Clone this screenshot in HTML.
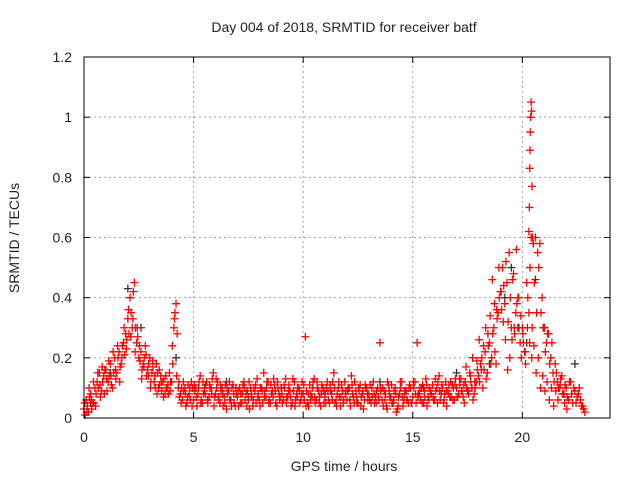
<!DOCTYPE html>
<html><head><meta charset="utf-8"><style>
body{margin:0;background:#fff;font-family:"Liberation Sans",sans-serif;}
svg text{font-family:"Liberation Sans",sans-serif;font-size:14px;fill:#222;}
</style></head><body>
<svg id="chart" width="640" height="480" xmlns="http://www.w3.org/2000/svg">
<rect x="0" y="0" width="640" height="480" fill="#fff"/>
<text x="344" y="32" text-anchor="middle">Day 004 of 2018, SRMTID for receiver batf</text>
<text x="344" y="471" text-anchor="middle">GPS time / hours</text>
<text x="19" y="238" text-anchor="middle" transform="rotate(-90 19 238)">SRMTID / TECUs</text>
<g id="grid"></g>
<g id="ticks"></g>
<g id="marks"></g>
<rect x="84" y="57" width="526" height="361" fill="none" stroke="#000" stroke-width="1"/>
</svg>
<script>
const xTicks=[0,5,10,15,20];
const yTicks=[0,0.2,0.4,0.6,0.8,1,1.2];
const yTickLabels=["0","0.2","0.4","0.6","0.8","1","1.2"];
const seriesA=[.03,.06,.02,.08,.05,.1,.12,.15,.09,.14,.16,.12,.18,.1,.2,.15,.22,.18,.25,.28,.33,.4,.3,.45,.25,.2,.22,.18,.24,.16,.2,.15,.12,.18,.1,.14,.12,.08,.1,.15,.12,.3,.38,.1,.08,.06,.1,.05,.08,.12,.06,.1,.08,.14,.05,.09,.12,.07,.1,.15,.08,.12,.05,.1,.07,.03,.09,.06,.11,.04,.07,.1,.05,.12,.08,.06,.1,.04,.09,.13,.06,.1,.15,.07,.12,.05,.09,.11,.04,.08,.1,.06,.13,.07,.09,.05,.12,.08,.1,.06,.08,.27,.05,.11,.07,.13,.06,.09,.04,.1,.07,.12,.05,.08,.15,.06,.1,.04,.09,.12,.06,.1,.14,.07,.09,.05,.11,.08,.06,.1,.08,.05,.12,.07,.1,.25,.06,.09,.04,.11,.07,.05,.1,.03,.08,.12,.06,.09,.05,.1,.07,.12,.25,.08,.1,.05,.13,.07,.09,.11,.06,.1,.14,.08,.05,.12,.09,.07,.11,.06,.1,.08,.13,.07,.12,.09,.15,.1,.08,.12,.14,.18,.1,.22,.15,.25,.2,.3,.18,.35,.42,.5,.38,.45,.55,.3,.48,.35,.4,.25,.3,.22,.45,.35,.6,.58,.6,.55,.58,.4,.3,.25,.28,.2,.15,.18,.12,.1,.14,.08,.1,.06,.12,.05,.09,.07,.1,.04,.03];
const seriesB=[.01,.04,.07,.03,.05,.08,.1,.07,.12,.16,.09,.14,.11,.15,.13,.2,.17,.24,.21,.26,.28,.35,.42,.3,.27,.19,.16,.2,.14,.18,.12,.17,.1,.15,.11,.09,.13,.1,.08,.12,.18,.35,.28,.07,.1,.09,.04,.11,.06,.1,.09,.04,.12,.06,.08,.11,.05,.1,.13,.07,.1,.06,.09,.04,.11,.08,.06,.1,.05,.08,.04,.08,.11,.06,.09,.03,.07,.1,.05,.08,.1,.05,.09,.12,.06,.08,.13,.05,.1,.07,.05,.1,.07,.11,.04,.09,.06,.1,.05,.12,.06,.09,.04,.08,.12,.05,.1,.07,.11,.05,.1,.06,.09,.12,.05,.08,.07,.11,.06,.09,.1,.04,.08,.12,.05,.09,.07,.03,.1,.06,.11,.07,.05,.09,.06,.1,.04,.08,.12,.07,.05,.09,.02,.07,.1,.04,.08,.06,.11,.05,.1,.05,.08,.06,.11,.07,.04,.1,.08,.06,.09,.12,.06,.1,.08,.04,.11,.07,.1,.13,.07,.11,.09,.05,.1,.08,.12,.06,.1,.16,.12,.2,.16,.13,.24,.18,.28,.22,.33,.4,.36,.44,.52,.32,.4,.46,.28,.38,.3,.2,.25,.18,.4,.5,.3,.45,.35,.5,.35,.3,.22,.28,.18,.25,.12,.15,.1,.13,.08,.11,.07,.12,.08,.1,.05,.08,.06,.04,.02];
const seriesC=[.05,.02,.1,.06,.12,.04,.15,.11,.17,.08,.13,.19,.14,.22,.16,.24,.12,.2,.3,.23,.36,.27,.33,.22,.3,.24,.13,.17,.21,.14,.1,.19,.14,.08,.16,.12,.07,.14,.11,.09,.24,.33,.14,.12,.05,.12,.08,.07,.1,.04,.11,.07,.1,.05,.12,.08,.06,.11,.08,.04,.13,.07,.11,.08,.05,.1,.12,.04,.08,.1,.09,.05,.08,.1,.04,.12,.08,.06,.11,.07,.04,.09,.07,.1,.05,.11,.07,.09,.12,.06,.08,.11,.05,.09,.07,.13,.04,.07,.09,.08,.11,.04,.08,.06,.1,.07,.12,.05,.08,.09,.05,.09,.11,.06,.1,.04,.12,.07,.05,.08,.09,.06,.11,.05,.07,.1,.04,.09,.11,.08,.06,.1,.08,.05,.07,.09,.1,.06,.03,.09,.11,.06,.08,.04,.12,.07,.09,.06,.1,.05,.12,.08,.07,.1,.05,.09,.11,.06,.08,.07,.13,.05,.09,.11,.06,.09,.08,.12,.06,.11,.07,.13,.09,.11,.17,.09,.14,.2,.12,.19,.26,.16,.24,.3,.28,.34,.46,.38,.36,.5,.42,.32,.26,.16,.2,.26,.3,.56,.4,.34,.28,.22,.3,.25,.2,.24,.15,.2,.1,.14,.09,.12,.06,.1,.04,.09,.06,.11,.08,.05,.03];
const spikeX=[20.3,20.32,20.34,20.35,20.36,20.38,20.4,20.42,20.44,20.46,20.5];
const spikeY=[0.62,0.7,0.83,0.89,0.95,1.0,1.05,1.02,0.77,0.6,0.58];
const blackX=[0.3,1.2,2.0,2.6,3.3,4.2,5.5,6.5,7.5,9.0,11.0,13.5,15.5,17.0,18.5,19.2,19.5,19.8,20.2,20.6,21.0,22.4];
const blackY=[0.05,0.15,0.43,0.3,0.18,0.2,0.1,0.12,0.07,0.1,0.08,0.12,0.1,0.15,0.18,0.4,0.5,0.3,0.25,0.46,0.3,0.18];

const X0=84,X1=610,Y0=418,Y1=57,XMAX=24,YMAX=1.2;
const sx=v=>X0+(X1-X0)*v/XMAX;
const sy=v=>Y0-(Y0-Y1)*v/YMAX;
const NS="http://www.w3.org/2000/svg";
const grid=document.getElementById('grid'),ticks=document.getElementById('ticks'),marks=document.getElementById('marks');
function mk(tag,attrs,parent){const e=document.createElementNS(NS,tag);for(const k in attrs)e.setAttribute(k,attrs[k]);parent.appendChild(e);return e;}
xTicks.forEach(t=>{
  if(t>0){const g=mk('line',{x1:sx(t),x2:sx(t),y1:Y0,y2:Y1,stroke:'#a0a0a0','stroke-dasharray':'2,3'},grid);
  
  }
  mk('line',{x1:sx(t),x2:sx(t),y1:Y0,y2:Y0-6,stroke:'#000'},ticks);
  mk('line',{x1:sx(t),x2:sx(t),y1:Y1,y2:Y1+6,stroke:'#000'},ticks);
  const l=mk('text',{x:sx(t),y:Y0+24,'text-anchor':'middle'},ticks);l.textContent=t;
  
  
});
yTicks.forEach((t,i)=>{
  if(t>0&&t<YMAX){const g=mk('line',{x1:X0,x2:X1,y1:sy(t),y2:sy(t),stroke:'#a0a0a0','stroke-dasharray':'2,3'},grid);
  
  }
  mk('line',{x1:X0,x2:X0+6,y1:sy(t),y2:sy(t),stroke:'#000'},ticks);
  mk('line',{x1:X1,x2:X1-6,y1:sy(t),y2:sy(t),stroke:'#000'},ticks);
  const l=mk('text',{x:X0-12,y:sy(t)+5,'text-anchor':'end'},ticks);l.textContent=yTickLabels[i];
  
  
});
function plus(x,y,c){
  const p=mk('path',{d:`M${x-4},${y}h8M${x},${y-4}v8`,stroke:c,'stroke-width':1.3,fill:'none'},marks);
  
  
}
blackX.forEach((x,i)=>plus(sx(x),sy(blackY[i]),'#333'));
seriesA.forEach((v,i)=>plus(sx(i*0.1),sy(v),'#ff0000'));
seriesB.forEach((v,i)=>plus(sx(i*0.1+0.05),sy(v),'#ff0000'));
seriesC.forEach((v,i)=>plus(sx(i*0.1+0.03),sy(v),'#ff0000'));
spikeX.forEach((x,i)=>plus(sx(x),sy(spikeY[i]),'#ff0000'));
</script>
</body></html>
